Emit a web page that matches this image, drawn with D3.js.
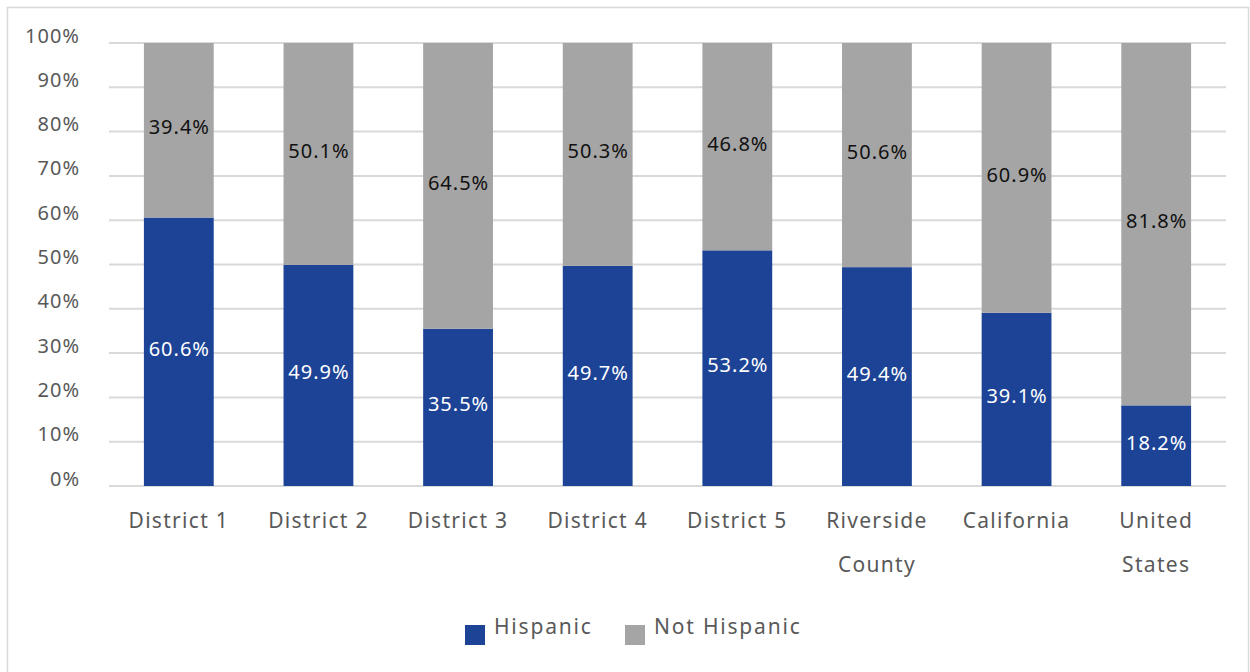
<!DOCTYPE html>
<html>
<head>
<meta charset="utf-8">
<script src="https://cdn.jsdelivr.net/npm/d3@7"></script>
<style>
  html, body { margin: 0; padding: 0; background: #fff; }
  svg { display: block; font-family: "Noto Sans", "Open Sans", sans-serif; }
</style>
</head>
<body>
<svg id="chart" width="1250" height="672"></svg>
<script>
// Population share by Hispanic origin
const categories = [["District 1"], ["District 2"], ["District 3"], ["District 4"], ["District 5"],
                    ["Riverside", "County"], ["California"], ["United", "States"]];
const hispanic    = [60.6, 49.9, 35.5, 49.7, 53.2, 49.4, 39.1, 18.2];
const notHispanic = [39.4, 50.1, 64.5, 50.3, 46.8, 50.6, 60.9, 81.8];
const seriesNames = ["Hispanic", "Not Hispanic"];
const yTicks = [0, 10, 20, 30, 40, 50, 60, 70, 80, 90, 100];

const colors = ["#1c4396", "#a5a5a5"];
const labelColors = ["#ffffff", "#111111"];
const textGray = "#595959";

const svg = d3.select("#chart");
const W = 1250, H = 672;
const plot = { left: 109, right: 1226, top: 43, bottom: 486 };

// outer frame
svg.append("rect")
  .attr("x", 7.5).attr("y", 7.5).attr("width", W - 9).attr("height", H)
  .attr("fill", "none").attr("stroke", "#d9d9d9").attr("stroke-width", 1.5);

const keys = categories.map(c => c.join(" "));
const x = d3.scaleBand().domain(keys).range([plot.left, plot.right]).paddingInner(0.5).paddingOuter(0.25);
const y = d3.scaleLinear().domain([0, 100]).range([plot.bottom, plot.top]);

// gridlines
svg.append("g")
  .selectAll("line").data(yTicks).join("line")
  .attr("x1", plot.left).attr("x2", plot.right)
  .attr("y1", d => y(d)).attr("y2", d => y(d))
  .attr("stroke", "#d9d9d9").attr("stroke-width", 2);

// y axis labels
const yAxis = d3.axisLeft(y).tickValues(yTicks).tickFormat(d => d + "%").tickSize(0).tickPadding(0);
const gy = svg.append("g").attr("transform", `translate(80,0)`).call(yAxis);
gy.select(".domain").remove();
gy.selectAll("text")
  .attr("font-size", 20).attr("fill", textGray)
  .attr("letter-spacing", 1)
  .attr("font-family", "\"Noto Sans\", sans-serif")
  .attr("dy", "0em").attr("y", -1);

// stacked series
const rows = keys.map((k, i) => ({ key: k, Hispanic: hispanic[i], "Not Hispanic": notHispanic[i] }));
const stack = d3.stack().keys(seriesNames)(rows);

const layers = svg.append("g").selectAll("g").data(stack).join("g")
  .attr("fill", (d, i) => colors[i]);

layers.selectAll("rect").data(d => d).join("rect")
  .attr("x", d => x(d.data.key))
  .attr("width", x.bandwidth())
  .attr("y", d => y(d[1]))
  .attr("height", d => y(d[0]) - y(d[1]));

// value labels centred in each segment
stack.forEach((layer, si) => {
  svg.append("g").selectAll("text").data(layer).join("text")
    .attr("x", d => x(d.data.key) + x.bandwidth() / 2 + 0.5)
    .attr("y", d => y((d[0] + d[1]) / 2) - 3)
    .attr("dy", "0.35em")
    .attr("text-anchor", "middle")
    .attr("font-size", 20)
    .attr("letter-spacing", 1)
    .attr("fill", labelColors[si])
    .text(d => (d[1] - d[0]).toFixed(1) + "%");
});

// category labels
const gx = svg.append("g");
categories.forEach((lines, i) => {
  const cx = x(keys[i]) + x.bandwidth() / 2;
  const t = gx.append("text")
    .attr("x", cx)
    .attr("y", 528)
    .attr("text-anchor", "middle")
    .attr("font-size", 21)
    .attr("letter-spacing", 1.3)
    .attr("fill", textGray);
  lines.forEach((ln, j) => {
    t.append("tspan").attr("x", cx).attr("y", 528 + j * 44).text(ln);
  });
});

// legend
const legendItems = [{ name: seriesNames[0], x: 465 }, { name: seriesNames[1], x: 625 }];
const lg = svg.append("g");
legendItems.forEach((it, i) => {
  lg.append("rect").attr("x", it.x).attr("y", 625).attr("width", 20).attr("height", 20).attr("fill", colors[i]);
  lg.append("text").attr("x", it.x + 29).attr("y", 634)
    .attr("font-size", 21).attr("letter-spacing", 1.8)
    .attr("fill", textGray).text(it.name);
});
</script>
</body>
</html>
